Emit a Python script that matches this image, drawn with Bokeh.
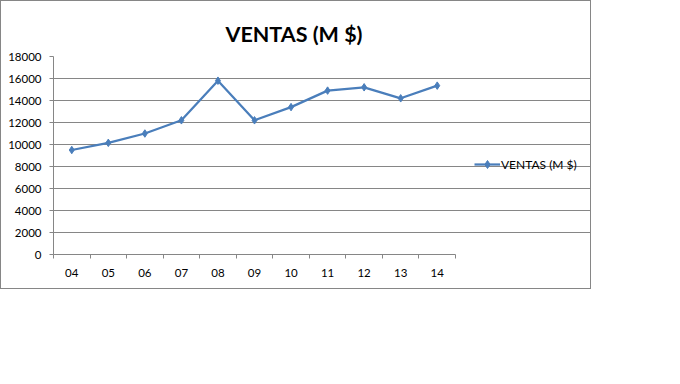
from bokeh.plotting import figure
from bokeh.models import (ColumnDataSource, FixedTicker, Legend, LegendItem,
                          Range1d)
from bokeh.embed import file_html
from bokeh.resources import INLINE

# ---- data ----
years = ["04", "05", "06", "07", "08", "09", "10", "11", "12", "13", "14"]
ventas = [9500, 10150, 11000, 12200, 15800, 12200, 13400, 14900, 15200, 14200, 15350]
y_ticks = [0, 2000, 4000, 6000, 8000, 10000, 12000, 14000, 16000, 18000]
series_name = "VENTAS (M $)"
title_text = "VENTAS (M $)"

# category centres and boundaries on a numeric axis
n = len(years)
centers = [i + 0.5 for i in range(n)]
bounds = list(range(n + 1))

GRAY = "#868686"
BLUE = "#4A7EBB"
FONT = "Lato"

# layout (pixels)
W, H = 591, 289
LEFT, TOP, BOTTOM = 52, 55, 36
PLOT_W = 402            # width of the category area
FRAME_W = W - LEFT      # frame runs to the right edge (room for legend)
x_end = n * FRAME_W / PLOT_W

src = ColumnDataSource(data=dict(x=centers, y=ventas, year=years))

p = figure(width=W, height=H,
           x_range=Range1d(0, x_end), y_range=Range1d(0, y_ticks[-1]),
           output_backend="svg", toolbar_location=None,
           min_border_left=LEFT, min_border_right=0,
           min_border_top=TOP, min_border_bottom=BOTTOM)
p.styles = {"border": "1px solid " + GRAY}
p.outline_line_color = None
p.background_fill_color = "white"
p.border_fill_color = "white"

# title
p.title.text = title_text
p.title.text_font = FONT
p.title.text_font_style = "bold"
p.title.text_font_size = "21.5px"
p.title.text_color = "#000000"
p.title.align = "left"
p.title.offset = 172
p.title.standoff = 20

# grid (limited to the category area)
p.xgrid.visible = False
p.ygrid.grid_line_color = GRAY
p.ygrid.grid_line_width = 1
p.ygrid.bounds = (0, n)

# y axis
p.yaxis.ticker = FixedTicker(ticks=y_ticks)
p.yaxis.axis_line_color = GRAY
p.yaxis.major_tick_line_color = GRAY
p.yaxis.major_tick_out = 4
p.yaxis.major_tick_in = 0
p.yaxis.minor_tick_line_color = None
p.yaxis.major_label_standoff = 8
p.yaxis.major_label_text_font = FONT
p.yaxis.major_label_text_font_size = "11.5px"
p.yaxis.major_label_text_color = "#000000"

# x axis
p.xaxis.bounds = (0, n)
p.xaxis.ticker = FixedTicker(ticks=centers, minor_ticks=bounds)
p.xaxis.major_label_overrides = {c: y for c, y in zip(centers, years)}
p.xaxis.axis_line_color = GRAY
p.xaxis.major_tick_line_color = None
p.xaxis.major_tick_out = 0
p.xaxis.major_tick_in = 0
p.xaxis.minor_tick_line_color = GRAY
p.xaxis.minor_tick_out = 4
p.xaxis.minor_tick_in = 0
p.xaxis.major_label_standoff = 10
p.xaxis.major_label_text_font = FONT
p.xaxis.major_label_text_font_size = "11.5px"
p.xaxis.major_label_text_color = "#000000"

# series
r1 = p.line("x", "y", source=src, line_color=BLUE, line_width=2.25)
r2 = p.scatter("x", "y", source=src, marker="diamond",
               size=7.5, fill_color=BLUE, line_color=BLUE)

legend = Legend(items=[LegendItem(label=series_name, renderers=[r1, r2])],
                location=(421, 80), padding=0, margin=0,
                glyph_width=26, glyph_height=20, label_height=20,
                label_standoff=1, border_line_color=None,
                background_fill_alpha=0,
                label_text_font=FONT, label_text_font_size="12px",
                label_text_color="#000000")
p.add_layout(legend)

open("out.html", "w").write(file_html(p, INLINE))
